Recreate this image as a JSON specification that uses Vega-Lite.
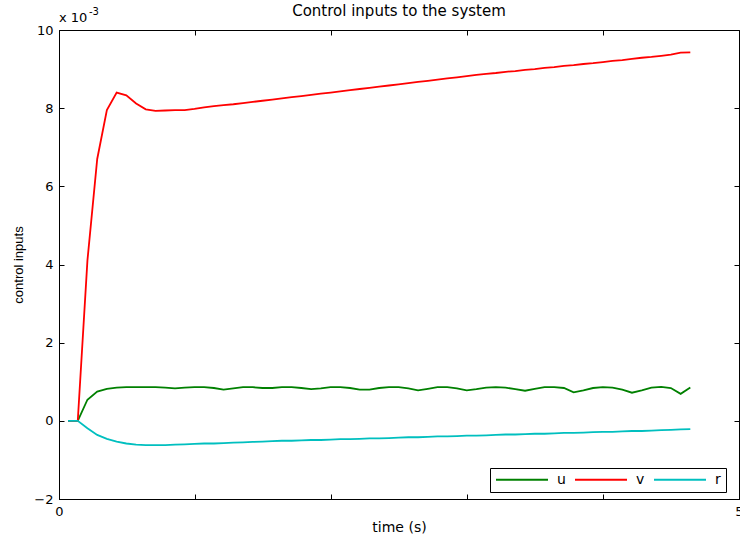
{
  "$schema": "https://vega.github.io/schema/vega-lite/v6.json",
  "autosize": "none",
  "width": 680,
  "height": 469,
  "padding": {"left": 59, "top": 30, "right": 1, "bottom": 43},
  "background": "white",
  "title": {
    "text": "Control inputs to the system",
    "frame": "group",
    "anchor": "middle",
    "offset": -12,
    "font": "DejaVu Sans",
    "fontSize": 15,
    "fontWeight": "normal",
    "color": "black"
  },
  "config": {
    "view": {"stroke": "black", "strokeWidth": 1},
    "axis": {
      "grid": false,
      "domainColor": "black",
      "tickColor": "black",
      "labelColor": "black",
      "titleColor": "black",
      "labelFont": "DejaVu Sans",
      "labelFontSize": 13,
      "titleFont": "DejaVu Sans",
      "titleFontSize": 14,
      "titleFontWeight": "normal",
      "tickSize": -5
    },
    "legend": {
      "labelFont": "DejaVu Sans",
      "labelFontSize": 14,
      "labelColor": "black"
    }
  },
  "data": {
    "values": [
      {"t": 0.066, "u": 0, "v": 0, "r": 0},
      {"t": 0.138, "u": 0, "v": 0, "r": 0},
      {"t": 0.209, "u": 0.00054, "v": 0.0041, "r": -0.00019},
      {"t": 0.281, "u": 0.00075, "v": 0.0067, "r": -0.00036},
      {"t": 0.352, "u": 0.00082, "v": 0.00795, "r": -0.00046},
      {"t": 0.424, "u": 0.00085, "v": 0.0084, "r": -0.00053},
      {"t": 0.495, "u": 0.00086, "v": 0.00833, "r": -0.00058},
      {"t": 0.567, "u": 0.00086, "v": 0.00812, "r": -0.00061},
      {"t": 0.638, "u": 0.00086, "v": 0.00797, "r": -0.00062},
      {"t": 0.710, "u": 0.00086, "v": 0.00793, "r": -0.00062},
      {"t": 0.781, "u": 0.00085, "v": 0.00794, "r": -0.00062},
      {"t": 0.853, "u": 0.00083, "v": 0.00795, "r": -0.00061},
      {"t": 0.924, "u": 0.00085, "v": 0.00795, "r": -0.0006},
      {"t": 0.996, "u": 0.00086, "v": 0.00798, "r": -0.00059},
      {"t": 1.067, "u": 0.00086, "v": 0.00802, "r": -0.00058},
      {"t": 1.139, "u": 0.00084, "v": 0.00805, "r": -0.00058},
      {"t": 1.210, "u": 0.0008, "v": 0.00808, "r": -0.00057},
      {"t": 1.282, "u": 0.00083, "v": 0.0081, "r": -0.00056},
      {"t": 1.353, "u": 0.00086, "v": 0.00813, "r": -0.00055},
      {"t": 1.425, "u": 0.00086, "v": 0.00816, "r": -0.00054},
      {"t": 1.496, "u": 0.00084, "v": 0.00819, "r": -0.00053},
      {"t": 1.568, "u": 0.00084, "v": 0.00822, "r": -0.00052},
      {"t": 1.639, "u": 0.00086, "v": 0.00825, "r": -0.00051},
      {"t": 1.711, "u": 0.00086, "v": 0.00828, "r": -0.00051},
      {"t": 1.782, "u": 0.00084, "v": 0.00831, "r": -0.0005},
      {"t": 1.854, "u": 0.00081, "v": 0.00834, "r": -0.00049},
      {"t": 1.925, "u": 0.00083, "v": 0.00837, "r": -0.00049},
      {"t": 1.997, "u": 0.00086, "v": 0.0084, "r": -0.00048},
      {"t": 2.068, "u": 0.00086, "v": 0.00843, "r": -0.00047},
      {"t": 2.140, "u": 0.00084, "v": 0.00846, "r": -0.00047},
      {"t": 2.211, "u": 0.0008, "v": 0.00849, "r": -0.00046},
      {"t": 2.283, "u": 0.0008, "v": 0.00852, "r": -0.00045},
      {"t": 2.354, "u": 0.00084, "v": 0.00855, "r": -0.00045},
      {"t": 2.426, "u": 0.00086, "v": 0.00858, "r": -0.00044},
      {"t": 2.497, "u": 0.00086, "v": 0.00861, "r": -0.00043},
      {"t": 2.569, "u": 0.00083, "v": 0.00864, "r": -0.00042},
      {"t": 2.640, "u": 0.00078, "v": 0.00867, "r": -0.00042},
      {"t": 2.712, "u": 0.00082, "v": 0.0087, "r": -0.00041},
      {"t": 2.783, "u": 0.00086, "v": 0.00873, "r": -0.0004},
      {"t": 2.855, "u": 0.00086, "v": 0.00876, "r": -0.0004},
      {"t": 2.926, "u": 0.00083, "v": 0.00879, "r": -0.00039},
      {"t": 2.998, "u": 0.00078, "v": 0.00882, "r": -0.00038},
      {"t": 3.069, "u": 0.00081, "v": 0.00885, "r": -0.00038},
      {"t": 3.141, "u": 0.00085, "v": 0.00888, "r": -0.00037},
      {"t": 3.212, "u": 0.00086, "v": 0.0089, "r": -0.00036},
      {"t": 3.284, "u": 0.00085, "v": 0.00893, "r": -0.00035},
      {"t": 3.355, "u": 0.00081, "v": 0.00895, "r": -0.00035},
      {"t": 3.427, "u": 0.00077, "v": 0.00898, "r": -0.00034},
      {"t": 3.498, "u": 0.00082, "v": 0.009, "r": -0.00033},
      {"t": 3.570, "u": 0.00086, "v": 0.00903, "r": -0.00033},
      {"t": 3.641, "u": 0.00086, "v": 0.00905, "r": -0.00032},
      {"t": 3.713, "u": 0.00084, "v": 0.00908, "r": -0.00031},
      {"t": 3.784, "u": 0.00073, "v": 0.0091, "r": -0.00031},
      {"t": 3.856, "u": 0.00078, "v": 0.00913, "r": -0.0003},
      {"t": 3.927, "u": 0.00084, "v": 0.00915, "r": -0.00029},
      {"t": 3.999, "u": 0.00086, "v": 0.00918, "r": -0.00028},
      {"t": 4.070, "u": 0.00085, "v": 0.00921, "r": -0.00028},
      {"t": 4.142, "u": 0.0008, "v": 0.00923, "r": -0.00027},
      {"t": 4.213, "u": 0.00072, "v": 0.00926, "r": -0.00026},
      {"t": 4.285, "u": 0.00078, "v": 0.00929, "r": -0.00026},
      {"t": 4.356, "u": 0.00085, "v": 0.00931, "r": -0.00025},
      {"t": 4.428, "u": 0.00087, "v": 0.00934, "r": -0.00024},
      {"t": 4.499, "u": 0.00084, "v": 0.00937, "r": -0.00023},
      {"t": 4.571, "u": 0.00069, "v": 0.00942, "r": -0.00022},
      {"t": 4.642, "u": 0.00085, "v": 0.00943, "r": -0.00021}
    ]
  },
  "transform": [{"fold": ["u", "v", "r"], "as": ["series", "value"]}],
  "layer": [
    {
      "mark": {"type": "line", "strokeWidth": 1.8, "clip": true},
      "encoding": {
        "x": {
          "field": "t",
          "type": "quantitative",
          "scale": {"domain": [0, 5], "nice": false, "zero": false},
          "axis": {
            "orient": "bottom",
            "title": "time (s)",
            "values": [0, 1, 2, 3, 4, 5],
            "labelExpr": "datum.value == 0 || datum.value == 5 ? datum.label : ''",
            "labelFlush": false,
            "labelPadding": 11,
            "titlePadding": 2
          }
        },
        "y": {
          "field": "value",
          "type": "quantitative",
          "scale": {"domain": [-0.002, 0.01], "nice": false, "zero": false},
          "axis": {
            "orient": "left",
            "title": "control inputs",
            "titleFont": "Liberation Sans",
            "titleFontSize": 13,
            "titlePadding": 8,
            "values": [-0.002, 0, 0.002, 0.004, 0.006, 0.008, 0.01],
            "labelExpr": "format(datum.value * 1000, 'd')",
            "labelPadding": 11
          }
        },
        "color": {
          "field": "series",
          "type": "nominal",
          "scale": {"domain": ["u", "v", "r"], "range": ["#008000", "#ff0000", "#00bfbf"]},
          "legend": {
            "title": null,
            "orient": "none",
            "legendX": 431,
            "legendY": 438,
            "direction": "horizontal",
            "symbolType": "stroke",
            "symbolSize": 2704,
            "symbolStrokeWidth": 1.8,
            "clipHeight": 13,
            "labelOffset": 8,
            "columnPadding": 8,
            "padding": 5,
            "strokeColor": "black",
            "fillColor": "white"
          }
        }
      }
    },
    {
      "mark": {"type": "line", "opacity": 0},
      "encoding": {
        "x": {
          "field": "t",
          "type": "quantitative",
          "axis": {"orient": "top", "title": null, "labels": false, "domain": false, "values": [0, 1, 2, 3, 4, 5]}
        },
        "y": {
          "field": "value",
          "type": "quantitative",
          "axis": {"orient": "right", "title": null, "labels": false, "domain": false, "values": [-0.002, 0, 0.002, 0.004, 0.006, 0.008, 0.01]}
        },
        "detail": {"field": "series"}
      }
    },
    {
      "data": {"values": [{"note": "x 10", "power": "-3"}]},
      "mark": {"type": "text", "align": "left", "baseline": "alphabetic", "dy": -8, "font": "DejaVu Sans", "fontSize": 13, "color": "black"},
      "encoding": {
        "x": {"datum": 0, "type": "quantitative", "axis": null},
        "y": {"datum": 0.01, "type": "quantitative", "axis": null},
        "text": {"field": "note"}
      }
    },
    {
      "data": {"values": [{"note": "x 10", "power": "-3"}]},
      "mark": {"type": "text", "align": "left", "baseline": "alphabetic", "dx": 30, "dy": -15, "font": "DejaVu Sans", "fontSize": 10, "color": "black"},
      "encoding": {
        "x": {"datum": 0, "type": "quantitative", "axis": null},
        "y": {"datum": 0.01, "type": "quantitative", "axis": null},
        "text": {"field": "power"}
      }
    }
  ],
  "resolve": {"axis": {"x": "independent", "y": "independent"}}
}
